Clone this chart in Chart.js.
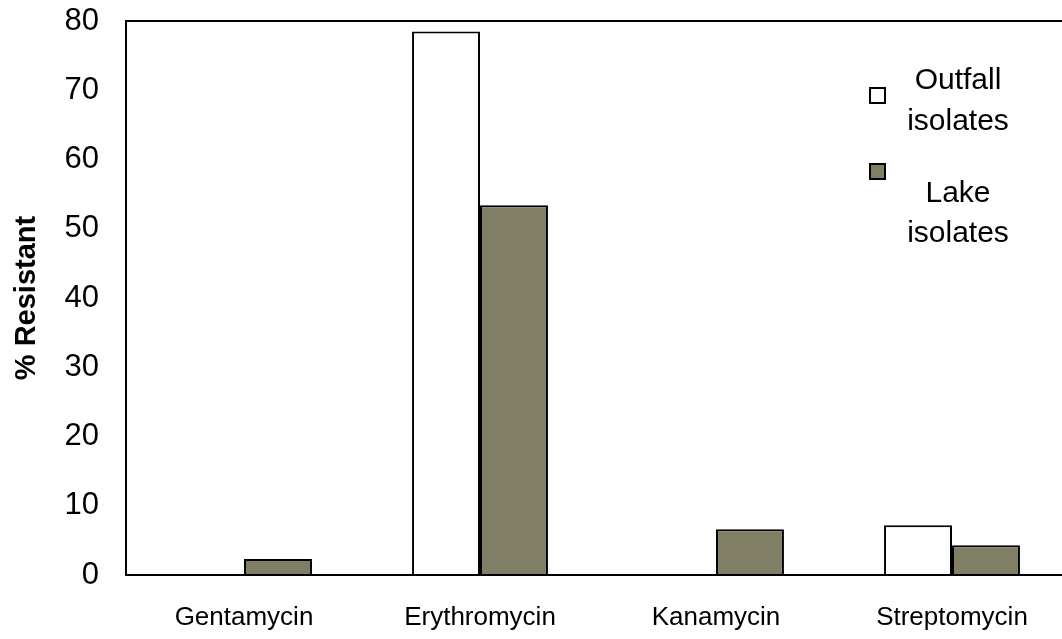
<!DOCTYPE html>
<html lang="en">
<head>
  <meta charset="UTF-8" />
  <title>% Resistant by antibiotic</title>
  <script src="https://cdn.jsdelivr.net/npm/chart.js"></script>
  <style>
    html, body {
      margin: 0;
      padding: 0;
      background: #fff;
      overflow: hidden;
    }
    #wrap {
      width: 1080px;
      height: 639px;
    }
  </style>
</head>
<body>
  <div id="wrap"><canvas id="chart"></canvas></div>

  <script>
    const categories = ["Gentamycin", "Erythromycin", "Kanamycin", "Streptomycin"];
    const outfallValues = [0, 78.5, 0, 7.2];
    const lakeValues = [2.3, 53.4, 6.6, 4.3];
    const seriesNames = [["Outfall", "isolates"], ["Lake", "isolates"]];
    const yTicks = [0, 10, 20, 30, 40, 50, 60, 70, 80];

    const FONT = "'Liberation Sans', Arial, sans-serif";

    // frame around plot area (right edge runs off the page like the original)
    const framePlugin = {
      id: 'frame',
      afterDatasetsDraw(chart) {
        const { ctx, chartArea: a } = chart;
        ctx.save();
        ctx.strokeStyle = '#000';
        ctx.lineWidth = 2;
        ctx.strokeRect(a.left, a.top, a.right - a.left, a.bottom - a.top);
        ctx.restore();
      }
    };

    // legend with two-line labels, placed inside the plot at upper right
    const legendPlugin = {
      id: 'boxLegend',
      afterDraw(chart) {
        const ctx = chart.ctx;
        const rows = [
          { boxY: 88, lines: [89, 130] },
          { boxY: 164, lines: [202, 242] }
        ];
        ctx.save();
        chart.data.datasets.forEach((ds, i) => {
          const r = rows[i];
          ctx.fillStyle = ds.backgroundColor;
          ctx.strokeStyle = '#000';
          ctx.lineWidth = 2;
          ctx.fillRect(870, r.boxY, 15, 15);
          ctx.strokeRect(870, r.boxY, 15, 15);
          ctx.fillStyle = '#000';
          ctx.font = '30px ' + FONT;
          ctx.textAlign = 'center';
          ctx.textBaseline = 'alphabetic';
          seriesNames[i].forEach((t, j) => ctx.fillText(t, 958, r.lines[j]));
        });
        ctx.restore();
      }
    };

    new Chart(document.getElementById('chart'), {
      type: 'bar',
      data: {
        labels: categories,
        datasets: [
          {
            label: seriesNames[0].join(' '),
            data: outfallValues,
            backgroundColor: '#ffffff',
            borderColor: '#000000',
            borderWidth: 2,
            categoryPercentage: 0.576,
            barPercentage: 1.0
          },
          {
            label: seriesNames[1].join(' '),
            data: lakeValues,
            backgroundColor: '#807f66',
            borderColor: '#000000',
            borderWidth: 2,
            categoryPercentage: 0.576,
            barPercentage: 1.0
          }
        ]
      },
      options: {
        responsive: true,
        maintainAspectRatio: false,
        animation: false,
        layout: { padding: { top: 21, right: 10, left: 0, bottom: 0 } },
        plugins: {
          legend: { display: false },
          tooltip: { enabled: false }
        },
        scales: {
          x: {
            grid: { display: false, drawTicks: false },
            border: { display: false },
            ticks: {
              color: '#000',
              font: { family: FONT, size: 26 },
              padding: 27,
              maxRotation: 0
            },
            afterFit(scale) { scale.height = 64; }
          },
          y: {
            min: 0,
            max: 80,
            afterBuildTicks(scale) {
              scale.ticks = yTicks.map(v => ({ value: v }));
            },
            grid: { display: false, drawTicks: false },
            border: { display: false },
            ticks: {
              color: '#000',
              font: { family: FONT, size: 31 },
              padding: 27
            },
            title: {
              display: true,
              text: '% Resistant',
              color: '#000',
              font: { family: FONT, size: 29, weight: 'bold' },
              padding: { top: 10, bottom: 0 }
            },
            afterFit(scale) {
              scale.width = 126;
              scale.paddingTop = 0;
              scale.paddingBottom = 0;
            }
          }
        }
      },
      plugins: [framePlugin, legendPlugin]
    });
  </script>
</body>
</html>
